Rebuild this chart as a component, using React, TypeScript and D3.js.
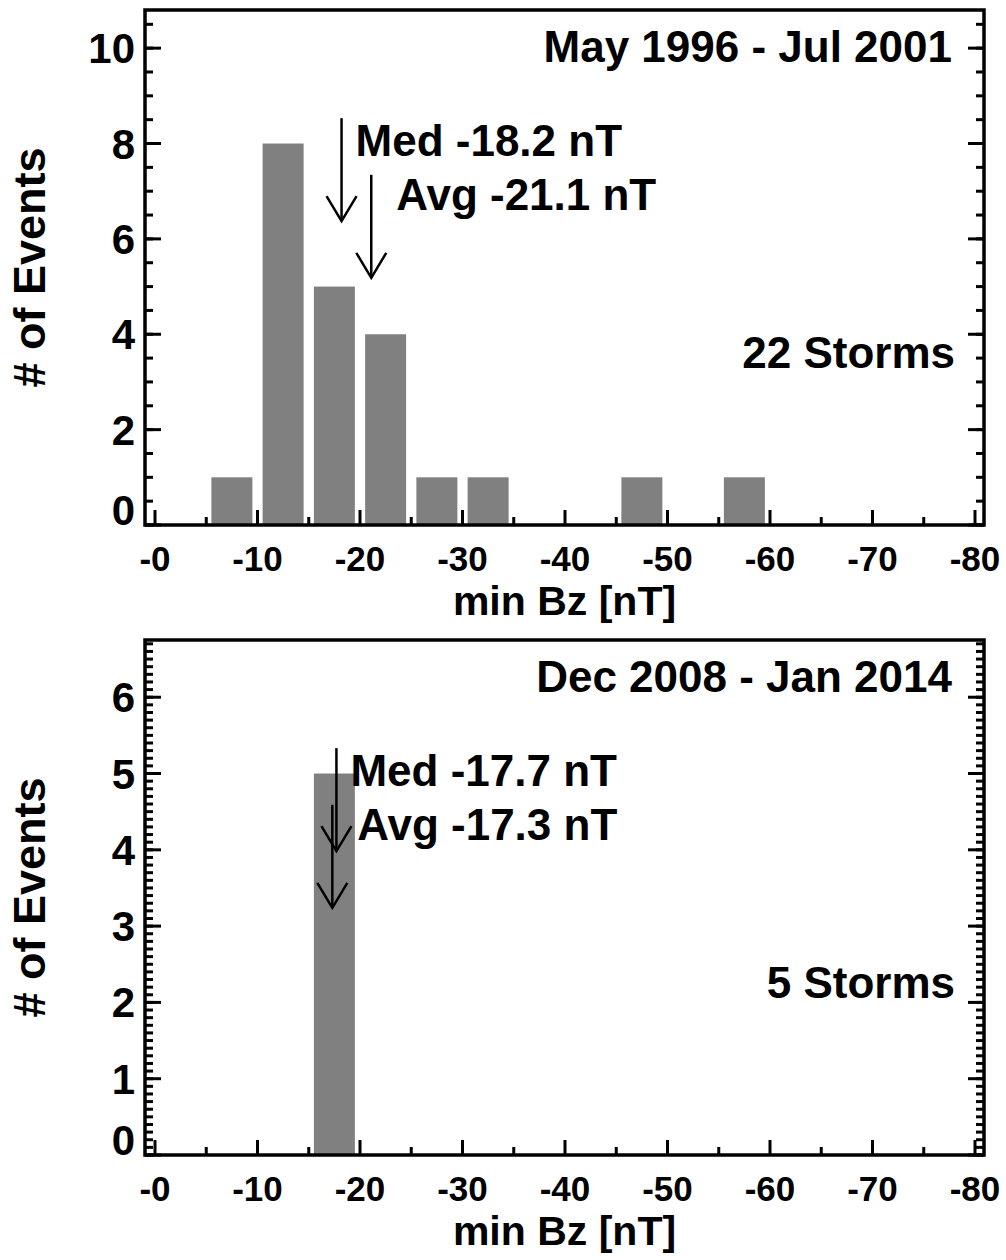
import React from "react";
import * as d3 from "d3";

// ---------- data ----------
const topBinStarts = [-5, -10, -15, -20, -25, -30, -45, -55];
const topCounts = [1, 8, 5, 4, 1, 1, 1, 1];
const bottomBinStarts = [-15];
const bottomCounts = [5];
const binWidth = -5;
const barFraction = 0.8;

const xTickValues = [0, -10, -20, -30, -40, -50, -60, -70, -80];
const xTickLabels = ["-0", "-10", "-20", "-30", "-40", "-50", "-60", "-70", "-80"];
const xMinorValues = [-5, -15, -25, -35, -45, -55, -65, -75];

const topYTicks = [0, 2, 4, 6, 8, 10];
const topYLabels = ["0", "2", "4", "6", "8", "10"];
const bottomYTicks = [0, 1, 2, 3, 4, 5, 6];
const bottomYLabels = ["0", "1", "2", "3", "4", "5", "6"];

const periods = ["May 1996 - Jul 2001", "Dec 2008 - Jan 2014"];
const stormLabels = ["22 Storms", "5 Storms"];
const medians = [-18.2, -17.7];
const averages = [-21.1, -17.3];
const medLabels = ["Med -18.2 nT", "Med -17.7 nT"];
const avgLabels = ["Avg -21.1 nT", "Avg -17.3 nT"];
const yMaxes = [10.8, 6.75];
const yMinorSteps = [0.5, 0.1];

const xTitle = "min Bz [nT]";
const yTitle = "# of Events";

// ---------- layout ----------
const W = 1006;
const H = 1260;
const X0 = 145;
const X1 = 984;
const panelTops = [10, 640];
const panelHeight = 515;
const FONT = "'Liberation Sans', Arial, Helvetica, sans-serif";

const xScale = d3.scaleLinear().domain([0, -80]).range([155, 975]);

function Panel({ idx }: { idx: number }) {
  const top = panelTops[idx];
  const bottom = top + panelHeight;
  const y = d3.scaleLinear().domain([0, yMaxes[idx]]).range([bottom, top]);
  const starts = idx === 0 ? topBinStarts : bottomBinStarts;
  const counts = idx === 0 ? topCounts : bottomCounts;
  const yTicks = idx === 0 ? topYTicks : bottomYTicks;
  const yLabels = idx === 0 ? topYLabels : bottomYLabels;
  const step = yMinorSteps[idx];
  const minor: number[] = [];
  for (let k = 0; k * step <= yMaxes[idx] + 1e-9; k++) minor.push(+(k * step).toFixed(3));
  const rel = (f: number) => top + f * panelHeight;

  const arrow = (xv: number, f0: number, f1: number, key: string) => {
    const xp = xScale(xv);
    const y0 = rel(f0);
    const y1 = rel(f1);
    return (
      <g key={key} stroke="#000" strokeWidth={2.5} fill="none">
        <line x1={xp} x2={xp} y1={y0} y2={y1} />
        <polyline points={`${xp - 15},${y1 - 25} ${xp},${y1} ${xp + 15},${y1 - 25}`} />
      </g>
    );
  };

  return (
    <g>
      {/* bars */}
      {starts.map((s, i) => {
        const c = s + binWidth / 2;
        const half = (Math.abs(binWidth) * barFraction) / 2;
        const xa = xScale(c + half);
        const xb = xScale(c - half);
        return (
          <rect
            key={i}
            x={xa}
            width={xb - xa}
            y={y(counts[i])}
            height={y(0) - y(counts[i])}
            fill="#808080"
          />
        );
      })}

      {/* x ticks */}
      {xTickValues.map((v) => (
        <line key={"xt" + v} x1={xScale(v)} x2={xScale(v)} y1={bottom} y2={bottom - 15} stroke="#000" strokeWidth={3} />
      ))}
      {xMinorValues.map((v) => (
        <line key={"xm" + v} x1={xScale(v)} x2={xScale(v)} y1={bottom} y2={bottom - 8} stroke="#000" strokeWidth={3} />
      ))}
      {/* y ticks */}
      {minor.map((v) => (
        <g key={"ym" + v}>
          <line x1={X0} x2={X0 + 8} y1={y(v)} y2={y(v)} stroke="#000" strokeWidth={3} />
          <line x1={X1} x2={X1 - 8} y1={y(v)} y2={y(v)} stroke="#000" strokeWidth={3} />
        </g>
      ))}
      {yTicks.map((v) => (
        <g key={"yt" + v}>
          <line x1={X0} x2={X0 + 16} y1={y(v)} y2={y(v)} stroke="#000" strokeWidth={3} />
          <line x1={X1} x2={X1 - 16} y1={y(v)} y2={y(v)} stroke="#000" strokeWidth={3} />
        </g>
      ))}

      {/* frame */}
      <rect x={X0} y={top} width={X1 - X0} height={bottom - top} fill="none" stroke="#000" strokeWidth={3.5} />

      {/* y tick labels */}
      {yTicks.map((v, i) => {
        const base = Math.min(y(v) + 15, bottom);
        return (
          <text key={"yl" + v} x={135} y={base} textAnchor="end" fontSize={42} fontWeight="bold" fontFamily={FONT}>
            {yLabels[i]}
          </text>
        );
      })}
      {/* x tick labels */}
      {xTickValues.map((v, i) => (
        <text key={"xl" + v} x={xScale(v)} y={bottom + 46} textAnchor="middle" fontSize={35} fontWeight="bold" fontFamily={FONT}>
          {xTickLabels[i]}
        </text>
      ))}
      {/* axis titles */}
      <text x={(X0 + X1) / 2} y={bottom + 90} textAnchor="middle" fontSize={41} fontWeight="bold" fontFamily={FONT}>
        {xTitle}
      </text>
      <text
        transform={`translate(45,${(top + bottom) / 2}) rotate(-90)`}
        textAnchor="middle"
        fontSize={45}
        fontWeight="bold"
        fontFamily={FONT}
      >
        {yTitle}
      </text>

      {/* annotations */}
      <text x={952} y={top + 52} textAnchor="end" fontSize={44} fontWeight="bold" fontFamily={FONT}>
        {periods[idx]}
      </text>
      <text x={955} y={rel(0.695)} textAnchor="end" fontSize={44} fontWeight="bold" fontFamily={FONT}>
        {stormLabels[idx]}
      </text>
      {arrow(medians[idx], 0.21, 0.41, "med")}
      {arrow(averages[idx], 0.32, 0.52, "avg")}
      <text x={xScale(medians[idx]) + 14} y={rel(0.283)} fontSize={44} fontWeight="bold" fontFamily={FONT}>
        {medLabels[idx]}
      </text>
      <text x={xScale(averages[idx]) + 25} y={rel(0.388)} fontSize={44} fontWeight="bold" fontFamily={FONT}>
        {avgLabels[idx]}
      </text>
    </g>
  );
}

export default function App() {
  return (
    <svg
      width={W}
      height={H}
      viewBox={`0 0 ${W} ${H}`}
      style={{ position: "absolute", left: 0, top: 0, background: "#fff" }}
    >
      <rect x={0} y={0} width={W} height={H} fill="#fff" />
      <Panel idx={0} />
      <Panel idx={1} />
    </svg>
  );
}
